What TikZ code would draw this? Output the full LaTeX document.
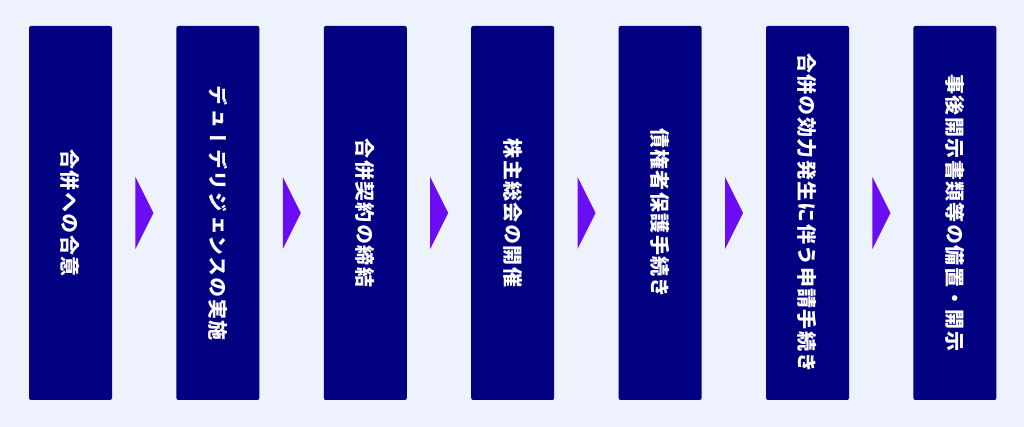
\documentclass[tikz,border=0pt]{standalone}
\usepackage{fontspec}
\newfontfamily\jpVert[Vertical=RotatedGlyphs,LetterSpace=7]{Noto Sans CJK JP}
\usepackage{xcolor}
\definecolor{pageBg}{HTML}{EEF2FC}
\definecolor{stepNavy}{HTML}{000080}
\definecolor{arrowViolet}{HTML}{6A0DF5}
\usetikzlibrary{positioning,shapes.geometric}
\tikzset{%
  stepBox/.style={%
    rectangle,
    rounded corners=2pt,
    fill=stepNavy,
    minimum width=83pt,
    minimum height=374pt,
    inner sep=0pt
  },
  stepText/.style={%
    text=white,
    rotate=-90,
    inner sep=0pt,
    font=\jpVert\bfseries\fontsize{20}{22}\selectfont
  },
  arrowTri/.style={%
    isosceles triangle,
    isosceles triangle stretches,
    fill=arrowViolet,
    minimum width=72pt,
    minimum height=18pt,
    inner sep=0pt
  }
}

\begin{document}
\begin{tikzpicture}
            \useasboundingbox[fill=pageBg] (0,0) rectangle (1024pt,427pt);

            \node[stepBox] (agree) at (70.5pt,214pt) {};
            \node[stepBox, right=64pt of agree] (diligence) {};
            \node[stepBox, right=64pt of diligence] (contract) {};
            \node[stepBox, right=64pt of contract] (meeting) {};
            \node[stepBox, right=64pt of meeting] (creditor) {};
            \node[stepBox, right=64pt of creditor] (filing) {};
            \node[stepBox, right=64pt of filing] (disclose) {};

            \node[stepText] (agreeText) at (agree) {合併への合意};
            \node[stepText] (diligenceText) at (diligence) {デューデリジェンスの実施};
            \node[stepText] (contractText) at (contract) {合併契約の締結};
            \node[stepText] (meetingText) at (meeting) {株主総会の開催};
            \node[stepText] (creditorText) at (creditor) {債権者保護手続き};
            \node[stepText] (filingText) at (filing) {合併の効力発生に伴う申請手続き};
            \node[stepText] (discloseText) at (disclose) {事後開示書類等の備置・開示};

            \node[arrowTri, right=23pt of agree] (tri1) {};
            \node[arrowTri, right=23pt of diligence] (tri2) {};
            \node[arrowTri, right=23pt of contract] (tri3) {};
            \node[arrowTri, right=23pt of meeting] (tri4) {};
            \node[arrowTri, right=23pt of creditor] (tri5) {};
            \node[arrowTri, right=23pt of filing] (tri6) {};
        \end{tikzpicture}
\end{document}
